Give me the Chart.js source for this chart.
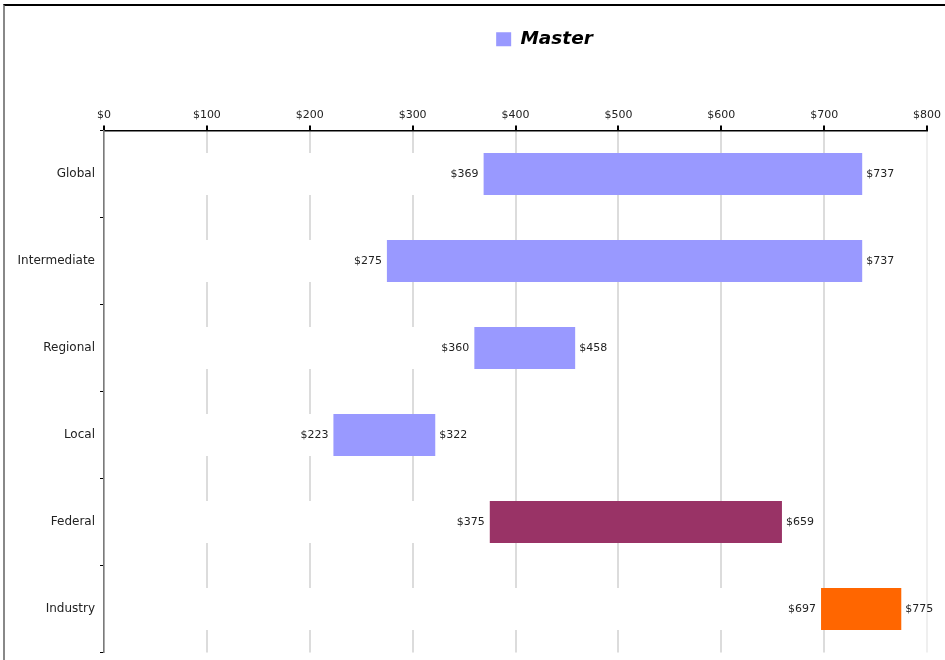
<!DOCTYPE html>
<html>
<head>
<meta charset="utf-8">
<title>Salary ranges</title>
<script src="https://cdn.jsdelivr.net/npm/chart.js@4/dist/chart.umd.min.js"></script>
<style>
  html, body { margin: 0; padding: 0; background: #fff; overflow: hidden; }
  #wrap { position: relative; width: 945px; height: 660px; }
  #frame {
    position: absolute; left: 3px; top: 4px; width: 2000px; height: 2000px;
    border-top: 2px solid #000; border-left: 2px solid #888; pointer-events: none;
  }
</style>
</head>
<body>
<div id="wrap">
  <canvas id="range-chart" width="945" height="660"></canvas>
  <div id="frame"></div>
</div>
<script>
const categories = ['Global', 'Intermediate', 'Regional', 'Local', 'Federal', 'Industry'];
const lowValues = [369, 275, 360, 223, 375, 697];
const highValues = [737, 737, 458, 322, 659, 775];
const barColors = ['#9999FF', '#9999FF', '#9999FF', '#9999FF', '#993366', '#FF6600'];
const seriesName = 'Master';
const axisMin = 0;
const axisMax = 800;
const axisStep = 100;

const money = (v) => '$' + v;

// shift the legend right so it sits over the plot, not the whole canvas
const legendShift = {
  id: 'legendShift',
  afterLayout(chart) {
    chart.legend.left += 80;
    chart.legend.right += 80;
  },
};

// low/high labels on either side of each range bar
const rangeLabels = {
  id: 'rangeLabels',
  afterDatasetsDraw(chart) {
    const { ctx } = chart;
    const meta = chart.getDatasetMeta(0);
    ctx.save();
    ctx.font = '11px "DejaVu Sans"';
    ctx.fillStyle = '#222';
    ctx.textBaseline = 'middle';
    meta.data.forEach((bar, i) => {
      const left = Math.min(bar.x, bar.base);
      const right = Math.max(bar.x, bar.base);
      ctx.textAlign = 'right';
      ctx.fillText(money(lowValues[i]), left - 5, bar.y);
      ctx.textAlign = 'left';
      ctx.fillText(money(highValues[i]), right + 4, bar.y);
    });
    ctx.restore();
  },
};

Chart.defaults.font.family = '"DejaVu Sans", Verdana, sans-serif';
Chart.defaults.color = '#222';

new Chart(document.getElementById('range-chart'), {
  type: 'bar',
  data: {
    labels: categories,
    datasets: [
      {
        label: seriesName,
        data: categories.map((_, i) => [lowValues[i], highValues[i]]),
        backgroundColor: barColors,
        grouped: false,
        order: 0,
        barPercentage: 0.48,
        categoryPercentage: 1,
      },
      {
        // white spacer from zero to the low end, hides the gridlines behind it
        label: 'spacer',
        data: lowValues.map((v) => [axisMin, v]),
        backgroundColor: '#ffffff',
        grouped: false,
        order: 1,
        barPercentage: 0.48,
        categoryPercentage: 1,
      },
    ],
  },
  options: {
    indexAxis: 'y',
    responsive: false,
    animation: false,
    layout: { padding: { top: 20, right: 16, bottom: 7.5, left: 0 } },
    plugins: {
      tooltip: { enabled: false },
      legend: {
        position: 'top',
        labels: {
          boxWidth: 15,
          boxHeight: 14,
          padding: 10,
          color: '#000',
          font: { size: 18.5, style: 'italic', weight: 'bold' },
          generateLabels: () => [{
            text: seriesName,
            fillStyle: barColors[0],
            strokeStyle: barColors[0],
            lineWidth: 0,
            datasetIndex: 0,
          }],
        },
      },
    },
    scales: {
      x: {
        position: 'top',
        min: axisMin,
        max: axisMax,
        afterFit: (scale) => { scale.height = 72; },
        ticks: {
          stepSize: axisStep,
          padding: 4,
          color: '#222',
          font: { size: 11 },
          callback: (v) => money(v),
        },
        grid: {
          color: (c) => (c.tick && c.tick.value === axisMax ? '#efefef' : '#dcdcdc'),
          lineWidth: 2,
          tickColor: '#000',
          tickLength: 5,
        },
        border: { color: '#000', width: 1.5, z: 1 },
      },
      y: {
        afterFit: (scale) => {
          scale.width = 104;
          scale.paddingTop = 0;
          scale.paddingBottom = 0;
        },
        ticks: { padding: 5, color: '#222', font: { size: 12 } },
        grid: {
          offset: true,
          drawOnChartArea: false,
          tickColor: '#000',
          tickLength: 4,
        },
        border: { color: '#7a7a7a', width: 1.5, z: 1 },
      },
    },
  },
  plugins: [legendShift, rangeLabels],
});
</script>
</body>
</html>
